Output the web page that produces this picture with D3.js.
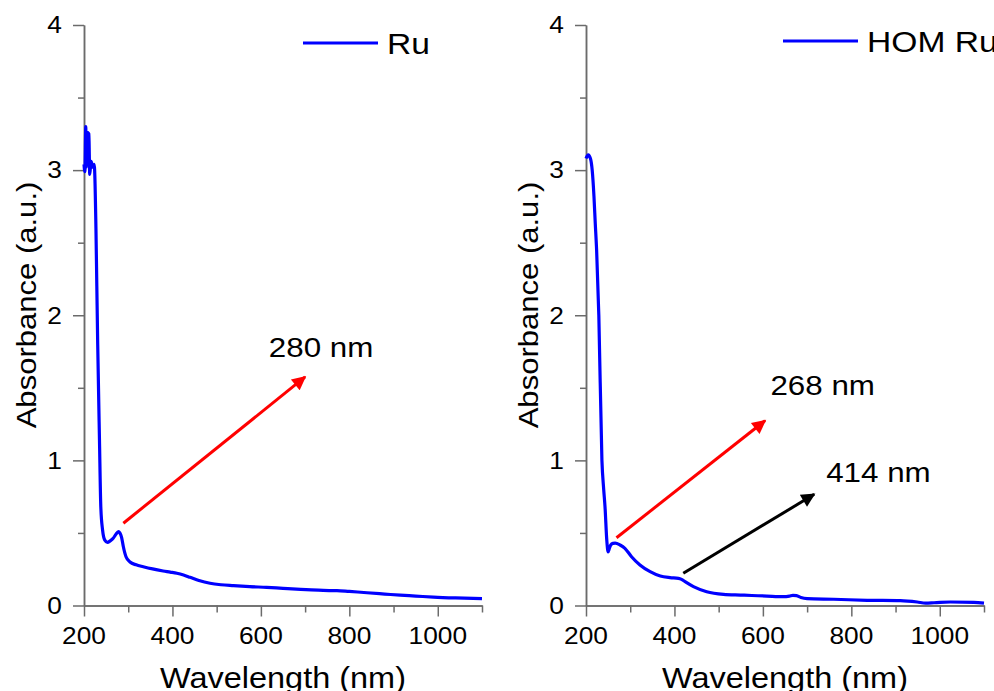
<!DOCTYPE html>
<html lang="en">
<head>
<meta charset="UTF-8"/>
<title>UV-Vis Ru</title>
<script src="https://d3js.org/d3.v7.min.js"></script>
<style>
  body { margin: 0; background: #fff; }
  text { font-family: "Liberation Sans", Arial, sans-serif; fill: #000; }
</style>
</head>
<body>
<div id="chart"></div>
<script>
// tick values
var xTicks = [200, 400, 600, 800, 1000];
var xMinor = [300, 500, 700, 900, 1100];
var yTicks = [0, 1, 2, 3, 4];
var yMinor = [0.5, 1.5, 2.5, 3.5];

// Ru spectrum
var ruWave = [200, 202, 204, 205, 207, 211, 213, 216, 220, 223, 227, 229, 231, 235, 238, 242, 247, 253, 259, 266, 272, 278, 281, 285, 289, 295, 304, 318, 334, 355, 379, 395, 410, 425, 440, 460, 485, 510, 538, 575, 613, 650, 690, 730, 764, 772, 800, 840, 880, 915, 950, 990, 1040, 1100];
var ruAbs  = [3.04, 2.99, 3.30, 3.02, 3.26, 3.25, 2.97, 3.06, 3.02, 3.04, 2.6, 2.2, 1.8, 1.14, 0.68, 0.52, 0.45, 0.435, 0.445, 0.463, 0.49, 0.51, 0.50, 0.47, 0.405, 0.336, 0.30, 0.28, 0.267, 0.252, 0.238, 0.23, 0.222, 0.21, 0.194, 0.172, 0.153, 0.143, 0.137, 0.13, 0.125, 0.118, 0.111, 0.106, 0.102, 0.103, 0.097, 0.088, 0.079, 0.071, 0.065, 0.058, 0.052, 0.047];

// HOM Ru spectrum
var homWave = [200, 205, 210, 214, 218, 221, 224, 229, 236, 240, 243, 247, 250, 253, 256, 261, 266, 277, 288, 303, 322, 345, 368, 390, 409, 416, 424, 443, 473, 511, 549, 575, 609, 647, 660, 668, 676, 686, 700, 760, 836, 911, 949, 968, 987, 1024, 1077, 1100];
var homAbs  = [3.08, 3.105, 3.08, 3.0, 2.82, 2.63, 2.45, 2.0, 1.0, 0.8, 0.68, 0.45, 0.37, 0.395, 0.417, 0.428, 0.43, 0.417, 0.394, 0.336, 0.279, 0.233, 0.203, 0.192, 0.187, 0.18, 0.164, 0.13, 0.095, 0.077, 0.072, 0.069, 0.065, 0.061, 0.065, 0.07, 0.068, 0.055, 0.047, 0.043, 0.036, 0.033, 0.024, 0.017, 0.019, 0.024, 0.022, 0.017];

// annotations: arrows and labels in data units
var arrows = [
  {panel: 0, x1: 289, y1: 0.567, x2: 700, y2: 1.575, color: "#ff0000"},
  {panel: 1, x1: 269, y1: 0.467, x2: 605, y2: 1.274, color: "#ff0000"},
  {panel: 1, x1: 420, y1: 0.222, x2: 716, y2: 0.766, color: "#000000"}
];
var notes = [
  {panel: 0, text: "280 nm", x: 618, y: 1.71},
  {panel: 1, text: "268 nm", x: 617, y: 1.451},
  {panel: 1, text: "414 nm", x: 743, y: 0.851}
];

var panels = [
  {left: 84, name: "Ru", wave: ruWave, abs: ruAbs, legX: 303, legY: 43},
  {left: 586, name: "HOM Ru", wave: homWave, abs: homAbs, legX: 783, legY: 41}
];

var W = 994, H = 691;
var plotTop = 25, plotBottom = 605.5, plotW = 398;
var sx = 1.12; // the source text is a little wide

var svg = d3.select("#chart").append("svg")
    .attr("width", W)
    .attr("height", H);

var defs = svg.append("defs");
["#ff0000", "#000000"].forEach(function(c, i) {
  defs.append("marker")
      .attr("id", "head" + i)
      .attr("viewBox", "0 0 10 10")
      .attr("refX", 9).attr("refY", 5)
      .attr("markerUnits", "userSpaceOnUse")
      .attr("markerWidth", 18).attr("markerHeight", 14)
      .attr("orient", "auto")
    .append("path")
      .attr("d", "M0,0 L10,5 L0,10 Z")
      .attr("fill", c);
});

function label(g, x, y, txt, size, anchor) {
  g.append("text")
      .attr("transform", "translate(" + x + "," + y + ") scale(" + sx + ",1)")
      .attr("text-anchor", anchor || "start")
      .style("font-size", size + "px")
      .text(txt);
}

panels.forEach(function(p, pi) {
  var x = d3.scaleLinear().domain([200, 1100]).range([p.left, p.left + plotW]);
  var y = d3.scaleLinear().domain([0, 4]).range([plotBottom, plotTop]);
  var g = svg.append("g");

  // axes
  g.append("g").attr("transform", "translate(0," + plotBottom + ")")
      .call(d3.axisBottom(x).tickValues(xMinor).tickSize(7).tickSizeOuter(0).tickFormat(""));
  g.append("g").attr("transform", "translate(0," + plotBottom + ")")
      .call(d3.axisBottom(x).tickValues(xTicks).tickSize(11).tickSizeOuter(0).tickFormat(""));
  g.append("g").attr("transform", "translate(" + p.left + ",0)")
      .call(d3.axisLeft(y).tickValues(yMinor).tickSize(6).tickSizeOuter(0).tickFormat(""));
  g.append("g").attr("transform", "translate(" + p.left + ",0)")
      .call(d3.axisLeft(y).tickValues(yTicks).tickSize(11).tickSizeOuter(0).tickFormat(""));
  g.selectAll(".domain, .tick line").attr("stroke", "#6b6b6b").attr("stroke-width", 1.5);

  // tick labels
  xTicks.forEach(function(t) { label(g, x(t), 643.5, t, 23.5, "middle"); });
  yTicks.forEach(function(t) { label(g, p.left - 22, y(t) + 8.3, t, 23.5, "end"); });

  // axis titles
  label(g, p.left + 199, 687.5, "Wavelength (nm)", 29, "middle");
  g.append("text")
      .attr("transform", "translate(" + (p.left - 48) + "," + 305 + ") rotate(-90) scale(1.15,1)")
      .attr("text-anchor", "middle")
      .style("font-size", "27px")
      .text("Absorbance (a.u.)");

  // spectrum
  var pts = p.wave.map(function(w, i) { return [w, p.abs[i]]; });
  g.append("path")
      .datum(pts)
      .attr("fill", "none")
      .attr("stroke", "#0000ff")
      .attr("stroke-width", 3.2)
      .attr("stroke-linejoin", "round")
      .attr("d", d3.line().x(function(d) { return x(d[0]); }).y(function(d) { return y(d[1]); })
        .curve(d3.curveMonotoneX));

  // legend
  g.append("line")
      .attr("x1", p.legX).attr("x2", p.legX + 75)
      .attr("y1", p.legY).attr("y2", p.legY)
      .attr("stroke", "#0000ff").attr("stroke-width", 3.2);
  label(g, p.legX + 84, p.legY + 10.5, p.name, 30, "start");

  // arrows + notes
  arrows.filter(function(a) { return a.panel === pi; }).forEach(function(a) {
    g.append("line")
        .attr("x1", x(a.x1)).attr("y1", y(a.y1))
        .attr("x2", x(a.x2)).attr("y2", y(a.y2))
        .attr("stroke", a.color).attr("stroke-width", 3)
        .attr("marker-end", "url(#head" + (a.color === "#ff0000" ? 0 : 1) + ")");
  });
  notes.filter(function(n) { return n.panel === pi; }).forEach(function(n) {
    label(g, x(n.x), y(n.y), n.text, 28, "start");
  });
});
</script>
</body>
</html>
